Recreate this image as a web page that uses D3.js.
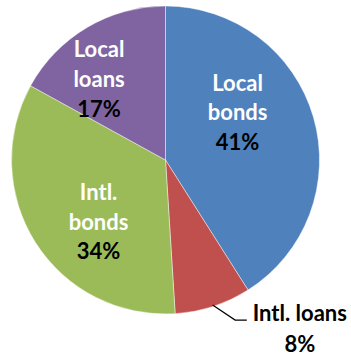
<!DOCTYPE html>
<html>
<head>
<meta charset="utf-8">
<script src="https://cdn.jsdelivr.net/npm/d3@7"></script>
<style>
  html, body { margin: 0; padding: 0; background: #fff; }
  svg { display: block; }
  text { font-family: Lato, "Open Sans", sans-serif; font-weight: 700; }
</style>
</head>
<body>
<svg id="chart" width="351" height="356"></svg>
<script>
// Funding sources, share of total (%)
const categories = ["Local bonds", "Intl. loans", "Intl. bonds", "Local loans"];
const shares = [41, 8, 34, 17];
// Name split over lines for the labels
const nameLines = [["Local", "bonds"], ["Intl. loans"], ["Intl.", "bonds"], ["Local", "loans"]];

const colors = ["#4F81BD", "#C0504D", "#9BBB59", "#8064A2"];

// Label placement: polar angle (deg, clockwise from top) and distance from the centre
const labelAngle = [57, 162, 227, 320.3];
const labelDist = [86, 0, 91.5, 104];

const width = 351, height = 356;
const cx = 165.5, cy = 160, radius = 154;
const fontSize = 22, lineGap = 29.7;

const svg = d3.select("#chart");
const g = svg.append("g").attr("transform", `translate(${cx},${cy})`);

const data = categories.map((c, i) => ({ name: c, value: shares[i], i }));
const pie = d3.pie().value(d => d.value).sort(null);
const arc = d3.arc().innerRadius(0).outerRadius(radius);
const arcs = pie(data);

g.selectAll("path.slice")
  .data(arcs)
  .join("path")
  .attr("class", "slice")
  .attr("d", arc)
  .attr("fill", d => colors[d.data.i])
  .attr("stroke", "rgba(255,255,255,0.55)")
  .attr("stroke-width", 0.8);

const polar = (deg, r) => {
  const a = deg * Math.PI / 180;
  return [Math.sin(a) * r, -Math.cos(a) * r];
};

// In-slice labels: white name lines, black percentage
arcs.forEach(d => {
  const i = d.data.i;
  if (i === 1) return;
  const [x, y] = polar(labelAngle[i], labelDist[i]);
  const t = g.append("text")
    .attr("text-anchor", "middle")
    .attr("font-size", fontSize);
  const lines = nameLines[i];
  lines.forEach((ln, k) => {
    t.append("tspan")
      .attr("x", x)
      .attr("y", y + 7.2 + (k - (lines.length - 1)) * lineGap)
      .attr("fill", "#fff")
      .text(ln);
  });
  t.append("tspan")
    .attr("x", x)
    .attr("y", y + 7.2 + lineGap)
    .attr("fill", "#000")
    .text(d.data.value + "%");
});

// Outside label with leader line for the small slice
const small = arcs[1];
const mid = (small.startAngle + small.endAngle) / 2;
const p0 = [Math.sin(mid) * (radius - 1.5), -Math.cos(mid) * (radius - 1.5)];
const p1 = [p0[0] + 22.5, p0[1] + 15];
const p2 = [p1[0] + 11.7, p1[1]];
g.append("path")
  .attr("d", d3.line()([p0, p1, p2]))
  .attr("fill", "none")
  .attr("stroke", "#000")
  .attr("stroke-width", 1.2);

const tx = p2[0] + 5;
const outer = g.append("text")
  .attr("text-anchor", "middle")
  .attr("font-size", fontSize)
  .attr("fill", "#000");
const bbW = 96;
outer.append("tspan")
  .attr("x", tx + bbW / 2)
  .attr("y", p2[1] + 0.5)
  .text(nameLines[1][0]);
outer.append("tspan")
  .attr("x", tx + bbW / 2)
  .attr("y", p2[1] + 31.5)
  .text(shares[1] + "%");
</script>
</body>
</html>
